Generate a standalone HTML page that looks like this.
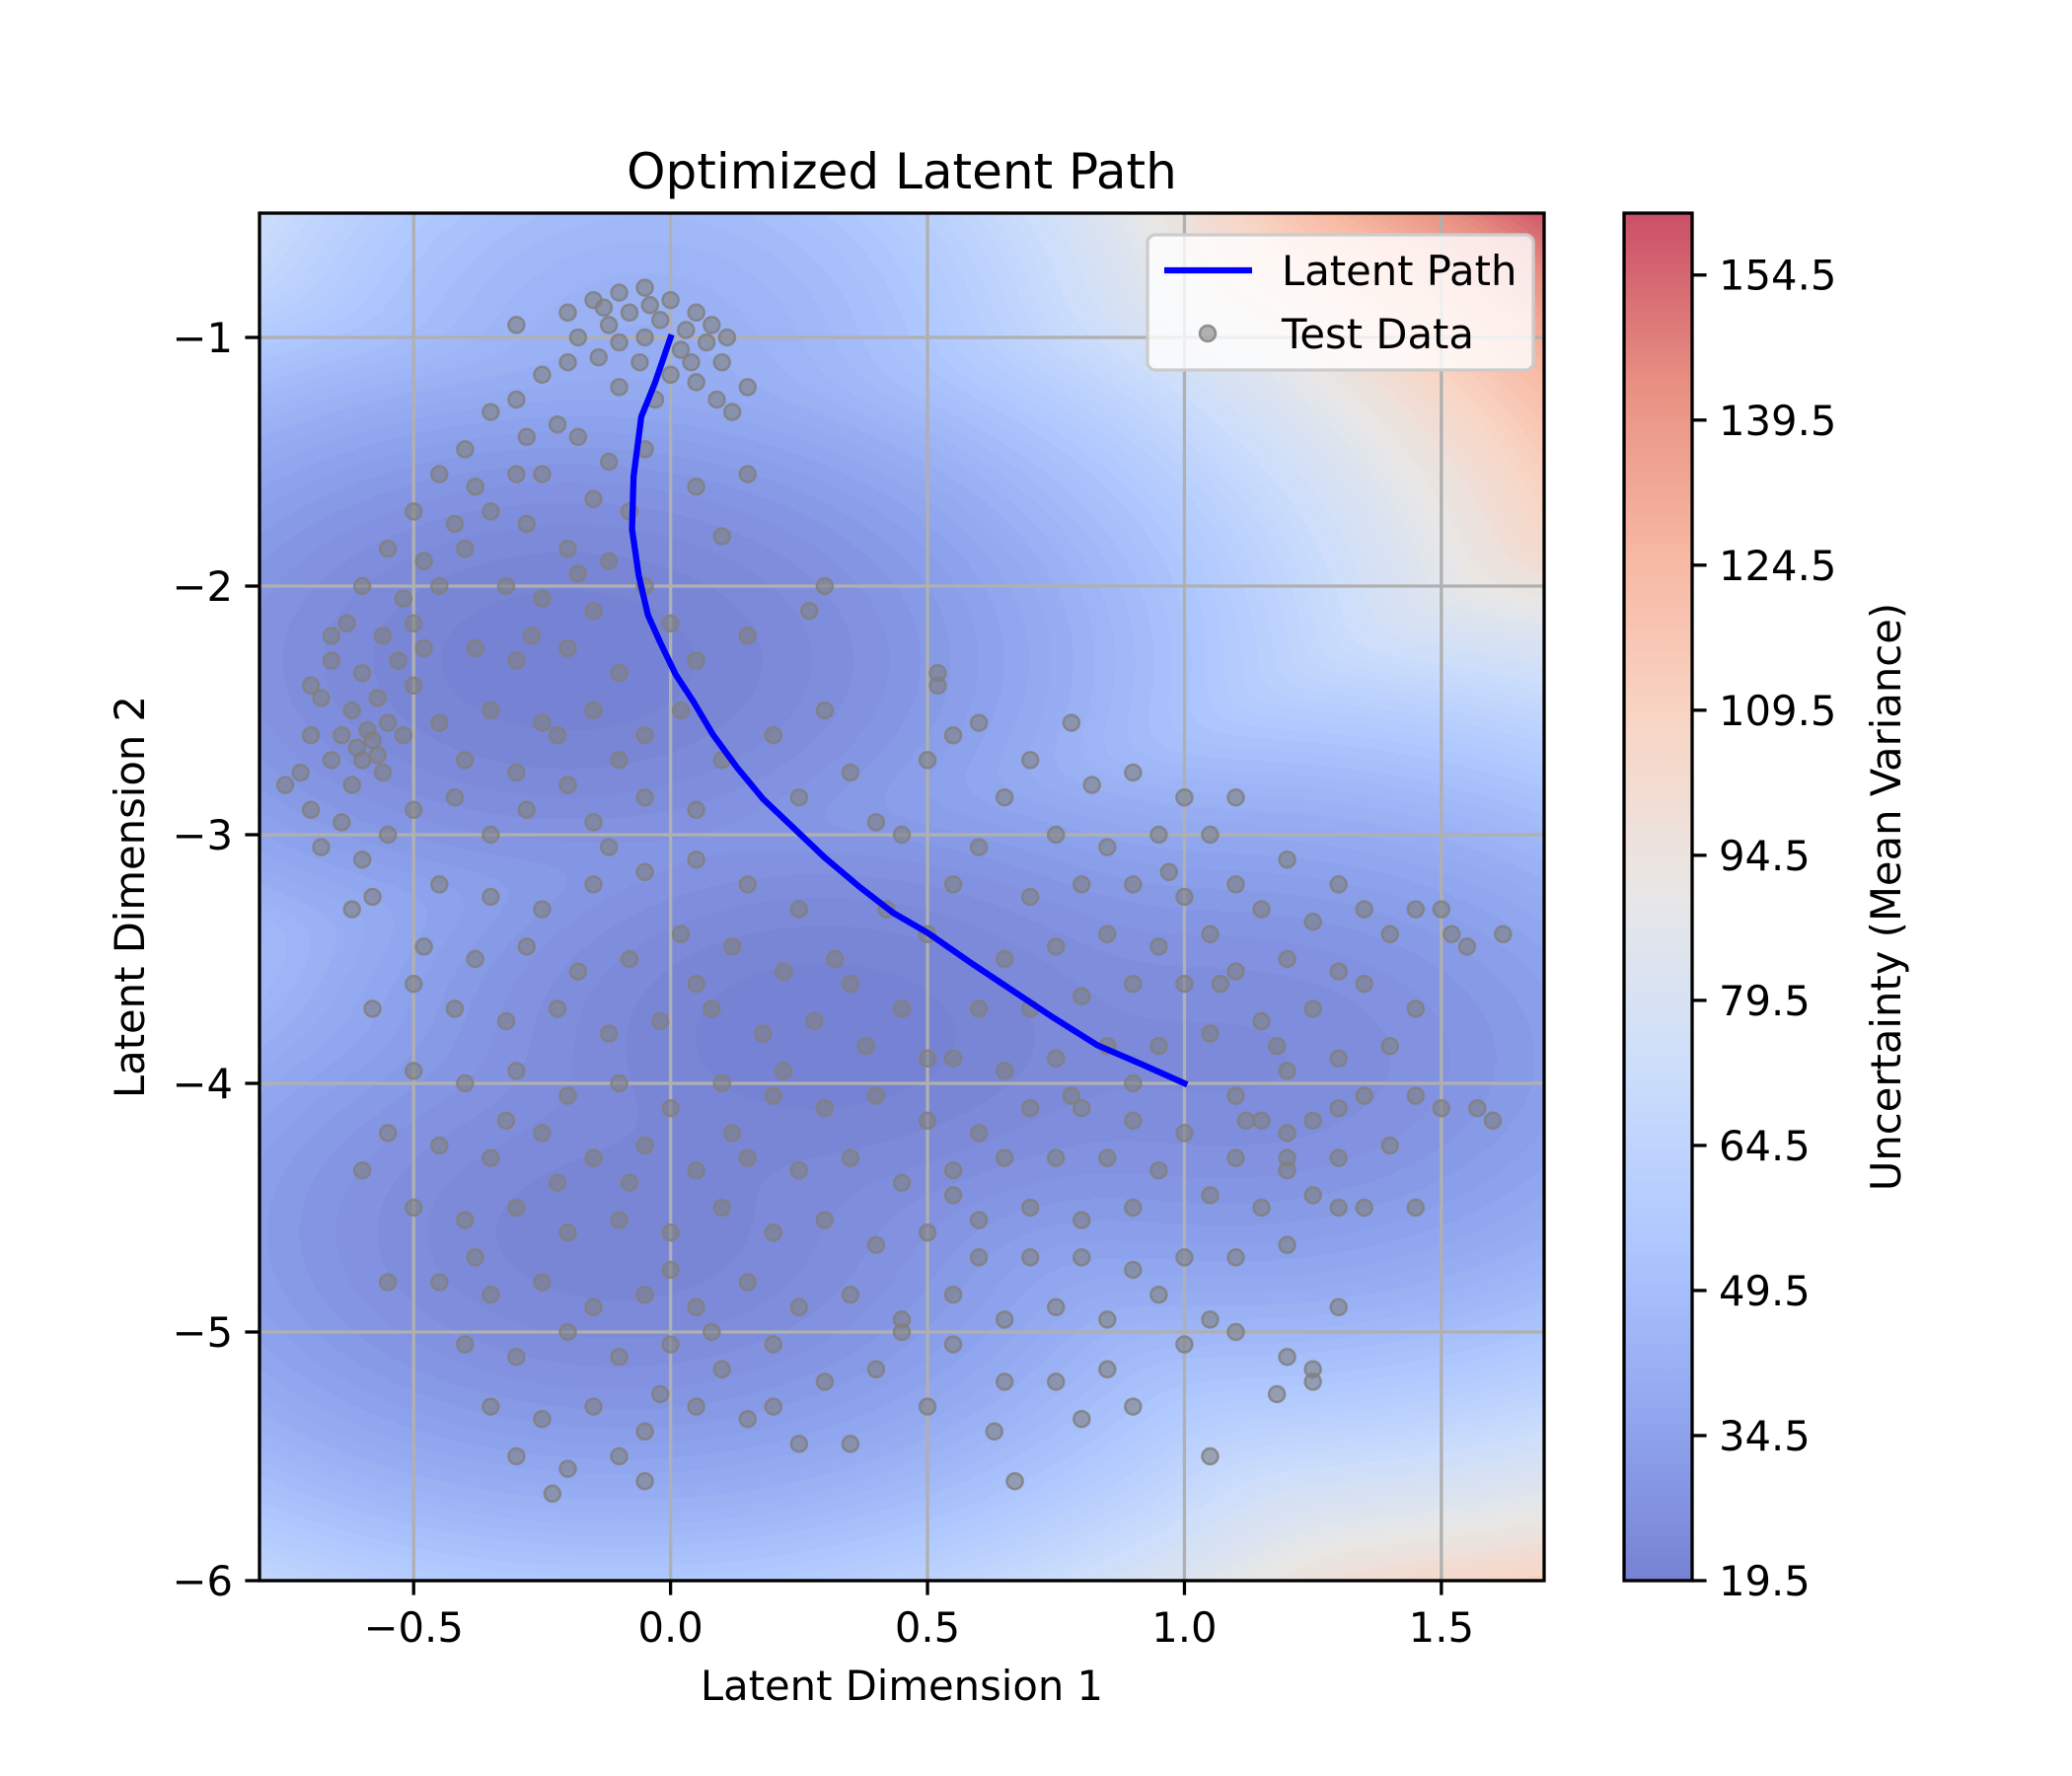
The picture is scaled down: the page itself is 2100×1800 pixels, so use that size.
<!DOCTYPE html>
<html><head><meta charset="utf-8">
<style>
html,body{margin:0;padding:0;background:#fff;}
#wrap{position:relative;width:2100px;height:1800px;overflow:hidden;font-family:"DejaVu Sans","Liberation Sans",sans-serif;}
#field{position:absolute;left:263px;top:216px;}
#svg{position:absolute;left:0;top:0;font-family:"DejaVu Sans","Liberation Sans",sans-serif;}
</style></head>
<body>
<div id="wrap">
<canvas id="field" width="1302" height="1386"></canvas>
<svg id="svg" width="2100" height="1800" xmlns="http://www.w3.org/2000/svg"></svg>
</div>
<script>
// ---- data ----
const xTicks = [-0.5, 0.0, 0.5, 1.0, 1.5];
const xTickLabels = ["\u22120.5", "0.0", "0.5", "1.0", "1.5"];
const yTicks = [-1, -2, -3, -4, -5, -6];
const yTickLabels = ["\u22121", "\u22122", "\u22123", "\u22124", "\u22125", "\u22126"];
const cbTicks = [19.5, 34.5, 49.5, 64.5, 79.5, 94.5, 109.5, 124.5, 139.5, 154.5];
const pathX = [0,-0.031,-0.057,-0.072,-0.075,-0.062,-0.044,-0.021,0.010,0.044,0.082,0.129,0.180,0.237,0.299,0.366,0.433,0.500,0.585,0.662,0.740,0.830,0.920,1.0];
const pathY = [-1,-1.186,-1.319,-1.559,-1.771,-1.957,-2.117,-2.223,-2.356,-2.463,-2.596,-2.729,-2.856,-2.968,-3.090,-3.207,-3.314,-3.394,-3.516,-3.622,-3.729,-3.846,-3.926,-4.0];
const testData = [
[-0.15,-0.85],[-0.1,-0.82],[-0.05,-0.8],[0.0,-0.85],[0.05,-0.9],[-0.2,-0.9],[-0.12,-0.95],[-0.08,-0.9],[-0.02,-0.93],[0.03,-0.97],[0.08,-0.95],[-0.18,-1.0],[-0.1,-1.02],[-0.05,-1.0],[0.02,-1.05],[0.07,-1.02],[0.1,-1.1],[-0.14,-1.08],[-0.06,-1.1],[0.0,-1.15],[0.05,-1.18],[-0.2,-1.1],[-0.25,-1.15],[-0.1,-1.2],[0.09,-1.25],[0.12,-1.3],[-0.03,-1.25],[0.15,-1.2],[-0.3,-0.95],[-0.04,-0.87],[0.11,-1.0],[-0.13,-0.88],[0.04,-1.1],
[-0.3,-1.25],[-0.35,-1.3],[-0.28,-1.4],[-0.4,-1.45],[-0.22,-1.35],[-0.45,-1.55],[-0.38,-1.6],[-0.3,-1.55],[-0.5,-1.7],[-0.42,-1.75],[-0.35,-1.7],[-0.55,-1.85],[-0.48,-1.9],[-0.4,-1.85],[-0.6,-2.0],[-0.52,-2.05],[-0.45,-2.0],[-0.63,-2.15],[-0.56,-2.2],[-0.5,-2.15],[-0.66,-2.3],[-0.6,-2.35],[-0.53,-2.3],[-0.68,-2.45],[-0.62,-2.5],[-0.57,-2.45],[-0.7,-2.6],[-0.64,-2.6],[-0.58,-2.62],[-0.6,-2.7],[-0.55,-2.55],[-0.66,-2.7],[-0.72,-2.75],[-0.62,-2.8],[-0.56,-2.75],[-0.7,-2.9],[-0.64,-2.95],[-0.75,-2.8],[-0.68,-3.05],[-0.6,-3.1],[-0.55,-3.0],[-0.5,-2.9],[-0.52,-2.6],[-0.5,-2.4],[-0.48,-2.25],[-0.58,-3.25],[-0.62,-3.3],[-0.66,-2.2],[-0.7,-2.4],[-0.59,-2.58],[-0.61,-2.65],[-0.57,-2.68],
[-0.18,-1.4],[-0.12,-1.5],[-0.05,-1.45],[-0.25,-1.55],[-0.15,-1.65],[-0.08,-1.7],[-0.28,-1.75],[-0.2,-1.85],[-0.12,-1.9],[0.05,-1.6],[0.1,-1.8],[0.15,-1.55],[-0.32,-2.0],[-0.25,-2.05],[-0.15,-2.1],[-0.05,-2.0],[0.0,-2.15],[-0.38,-2.25],[-0.3,-2.3],[-0.2,-2.25],[-0.1,-2.35],[0.05,-2.3],[-0.35,-2.5],[-0.25,-2.55],[-0.15,-2.5],[-0.05,-2.6],[0.02,-2.5],[-0.4,-2.7],[-0.3,-2.75],[-0.2,-2.8],[-0.1,-2.7],[-0.28,-2.9],[-0.15,-2.95],[-0.05,-2.85],[0.05,-2.9],[-0.35,-3.0],[-0.42,-2.85],[-0.45,-2.55],[0.1,-2.7],[0.2,-2.6],[0.3,-2.0],[0.15,-2.2],[-0.22,-2.6],[-0.27,-2.2],[-0.18,-1.95],
[-0.45,-3.2],[-0.35,-3.25],[-0.25,-3.3],[-0.15,-3.2],[-0.05,-3.15],[0.05,-3.1],[0.15,-3.2],[0.25,-3.3],[-0.48,-3.45],[-0.38,-3.5],[-0.28,-3.45],[-0.18,-3.55],[-0.08,-3.5],[0.02,-3.4],[0.12,-3.45],[0.22,-3.55],[0.32,-3.5],[-0.42,-3.7],[-0.32,-3.75],[-0.22,-3.7],[-0.12,-3.8],[-0.02,-3.75],[0.08,-3.7],[0.18,-3.8],[0.28,-3.75],[0.38,-3.85],[-0.5,-3.95],[-0.4,-4.0],[-0.3,-3.95],[-0.2,-4.05],[-0.1,-4.0],[0.0,-4.1],[0.1,-4.0],[0.2,-4.05],[0.3,-4.1],[0.4,-4.05],[0.5,-4.15],[-0.55,-4.2],[-0.45,-4.25],[-0.35,-4.3],[-0.25,-4.2],[-0.15,-4.3],[-0.05,-4.25],[0.05,-4.35],[0.15,-4.3],[0.25,-4.35],[0.35,-4.3],[0.45,-4.4],[0.55,-4.35],[-0.5,-4.5],[-0.4,-4.55],[-0.3,-4.5],[-0.2,-4.6],[-0.1,-4.55],[0.0,-4.6],[0.1,-4.5],[0.2,-4.6],[0.3,-4.55],[0.4,-4.65],[0.5,-4.6],[0.6,-4.55],[-0.45,-4.8],[-0.35,-4.85],[-0.25,-4.8],[-0.15,-4.9],[-0.05,-4.85],[0.05,-4.9],[0.15,-4.8],[0.25,-4.9],[0.35,-4.85],[0.45,-4.95],[0.55,-4.85],[-0.4,-5.05],[-0.3,-5.1],[-0.2,-5.0],[-0.1,-5.1],[0.0,-5.05],[0.1,-5.15],[0.2,-5.05],[0.3,-5.2],[-0.35,-5.3],[-0.25,-5.35],[-0.15,-5.3],[-0.05,-5.4],[0.05,-5.3],[-0.3,-5.5],[-0.2,-5.55],[-0.1,-5.5],[-0.23,-5.65],[-0.05,-5.6],[0.25,-5.45],[0.15,-5.35],[-0.55,-4.8],[-0.6,-4.35],[-0.5,-3.6],[-0.58,-3.7],[0.6,-4.2],[0.0,-4.75],[-0.08,-4.4],[0.12,-4.2],[-0.22,-4.4],[-0.32,-4.15],[0.22,-3.95],[0.35,-3.6],[0.42,-3.3],[0.45,-3.0],[0.05,-3.6],[-0.12,-3.05],[-0.38,-4.7],[0.08,-5.0],[-0.02,-5.25],
[0.52,-2.4],[0.55,-2.6],[0.5,-2.7],[0.6,-2.55],[0.7,-2.7],[0.65,-2.85],[0.78,-2.55],[0.82,-2.8],[0.9,-2.75],[1.0,-2.85],[1.1,-2.85],[1.05,-3.0],[0.95,-3.0],[0.85,-3.05],[0.75,-3.0],[0.6,-3.05],[0.55,-3.2],[0.7,-3.25],[0.8,-3.2],[0.9,-3.2],[1.0,-3.25],[1.1,-3.2],[1.2,-3.1],[1.3,-3.2],[1.35,-3.3],[1.25,-3.35],[1.15,-3.3],[1.05,-3.4],[0.95,-3.45],[0.85,-3.4],[0.75,-3.45],[0.65,-3.5],[0.6,-3.7],[0.7,-3.7],[0.8,-3.65],[0.9,-3.6],[1.0,-3.6],[1.1,-3.55],[1.2,-3.5],[1.3,-3.55],[1.4,-3.4],[1.45,-3.3],[1.5,-3.3],[1.55,-3.45],[1.35,-3.6],[1.25,-3.7],[1.15,-3.75],[1.05,-3.8],[0.95,-3.85],[0.85,-3.85],[0.75,-3.9],[0.65,-3.95],[0.55,-3.9],[1.3,-3.9],[1.4,-3.85],[1.45,-3.7],[1.2,-3.95],[1.1,-4.05],[1.15,-4.15],[1.2,-4.2],[1.25,-4.15],[1.3,-4.1],[1.35,-4.05],[1.45,-4.05],[1.5,-4.1],[1.4,-4.25],[1.3,-4.3],[1.2,-4.35],[1.1,-4.3],[1.0,-4.2],[0.9,-4.15],[0.8,-4.1],[0.7,-4.1],[0.65,-4.3],[0.75,-4.3],[0.85,-4.3],[0.95,-4.35],[1.05,-4.45],[1.15,-4.5],[1.25,-4.45],[1.35,-4.5],[0.9,-4.5],[0.8,-4.55],[0.7,-4.5],[0.6,-4.7],[0.7,-4.7],[0.8,-4.7],[0.9,-4.75],[1.0,-4.7],[1.1,-4.7],[1.2,-4.65],[1.05,-4.95],[0.95,-4.85],[0.85,-4.95],[0.75,-4.9],[0.65,-4.95],[0.55,-5.05],[0.65,-5.2],[0.75,-5.2],[0.85,-5.15],[1.0,-5.05],[1.1,-5.0],[1.2,-5.1],[1.25,-5.15],[1.3,-4.9],[0.8,-5.35],[0.9,-5.3],[0.63,-5.4],[0.67,-5.6],[1.05,-5.5],[1.25,-5.2],[1.18,-5.25],[1.57,-4.1],[1.6,-4.15],[1.62,-3.4],[1.52,-3.4],[0.52,-2.35],[0.97,-3.15],[1.07,-3.6],[1.18,-3.85],[0.9,-4.0],[1.12,-4.15],[1.2,-4.3],[0.78,-4.05],[1.45,-4.5],[1.3,-4.5],
[0.27,-2.1],[0.3,-2.5],[0.25,-2.85],[0.35,-2.75],[0.4,-2.95],[0.5,-3.4],[0.45,-3.7],[0.5,-3.9],[0.55,-4.45],[0.45,-5.0],[0.4,-5.15],[0.35,-5.45],[0.2,-5.3],[0.5,-5.3]
];
// uncertainty field bowls: center x, center y, base value
const bowlCx = [-0.05, -0.2, 0.3, 1.1, -0.1];
const bowlCy = [-1.1, -2.3, -3.8, -3.9, -4.6];
const bowlBase = [42, 20, 20, 25, 22];
const bowlKx = [45, 23, 23, 23, 23];
const bowlKy = [17.5, 17.5, 17.5, 17.5, 17.5];

// ---- scales ----
const L=263, R=1565, T=216, B=1602;
const X0=-0.8, X1=1.7, Y0=-6, Y1=-0.5;
const VMIN=19.5, VMAX=160.9;
const sx = v => L + (v - X0) / (X1 - X0) * (R - L);
const sy = v => B - (v - Y0) / (Y1 - Y0) * (B - T);
const cbL=1646, cbR=1715;
const sc = v => B - (v - VMIN) / (VMAX - VMIN) * (B - T);

const cmStops=[[0,59,76,192],[0.125,98,130,234],[0.25,141,176,254],[0.375,184,208,249],[0.5,221,221,221],[0.625,245,196,173],[0.75,244,154,123],[0.875,222,96,77],[1,180,4,38]];
const ALPHA=0.7;
function cmap(t){t=Math.max(0,Math.min(1,t));for(let i=1;i<cmStops.length;i++){if(t<=cmStops[i][0]){const a=cmStops[i-1],b=cmStops[i];const f=(t-a[0])/(b[0]-a[0]);return [0,1,2].map(k=>{const c=a[k+1]+(b[k+1]-a[k+1])*f;return Math.round(c*ALPHA+255*(1-ALPHA));});}}return [180,4,38];}
function field(x,y){let s=0;for(let i=0;i<bowlCx.length;i++){const v=bowlBase[i]+bowlKx[i]*(x-bowlCx[i])**2+bowlKy[i]*(y-bowlCy[i])**2;s+=Math.exp(-v/3);}return -3*Math.log(s);}

// ---- field canvas ----
const cv=document.getElementById('field');const ctx=cv.getContext('2d');
const W=cv.width,H=cv.height;const img=ctx.createImageData(W,H);
for(let py=0;py<H;py+=2){for(let px=0;px<W;px+=2){
 const x=X0+(px+1)/W*(X1-X0), y=Y1-(py+1)/H*(Y1-Y0);
 let v=field(x,y);
 const lev=Math.floor((v-VMIN)/1.9);
 const c=cmap((lev*1.9)/(VMAX-VMIN));
 for(let dy=0;dy<2;dy++)for(let dx=0;dx<2;dx++){if(px+dx<W&&py+dy<H){const k=((py+dy)*W+px+dx)*4;img.data[k]=c[0];img.data[k+1]=c[1];img.data[k+2]=c[2];img.data[k+3]=255;}}
}}
ctx.putImageData(img,0,0);

// ---- svg ----
const NS='http://www.w3.org/2000/svg';const svg=document.getElementById('svg');
function mk(tag,attrs,parent){const e=document.createElementNS(NS,tag);for(const k in attrs)e.setAttribute(k,attrs[k]);(parent||svg).appendChild(e);return e;}
const FS=41.7;

// gridlines
const grid=mk('g',{});


xTicks.forEach(v=>{const l=mk('line',{x1:sx(v),x2:sx(v),y1:T,y2:B,stroke:'#b0b0b0','stroke-width':3.3},grid);

});
yTicks.forEach(v=>{const l=mk('line',{x1:L,x2:R,y1:sy(v),y2:sy(v),stroke:'#b0b0b0','stroke-width':3.3},grid);

});

// scatter
const sg=mk('g',{});


testData.forEach(p=>{const c=mk('circle',{cx:sx(p[0]),cy:sy(p[1]),r:8,fill:'rgba(128,128,128,0.6)',stroke:'rgba(128,128,128,0.85)','stroke-width':2.5},sg);

});

// path
const pts=pathX.map((x,i)=>sx(x)+','+sy(pathY[i])).join(' ');
const pl=mk('polyline',{points:pts,fill:'none',stroke:'#0000ff','stroke-width':6.25,'stroke-linejoin':'round','stroke-linecap':'square'});



// spines
const sp=mk('rect',{x:L,y:T,width:R-L,height:B-T,fill:'none',stroke:'#000','stroke-width':3.3});



// ticks & labels
xTicks.forEach((v,i)=>{mk('line',{x1:sx(v),x2:sx(v),y1:B,y2:B+14.6,stroke:'#000','stroke-width':3.3});
const t=mk('text',{x:sx(v),y:B+62,'font-size':FS,'text-anchor':'middle',fill:'#000'});t.textContent=xTickLabels[i];

});
yTicks.forEach((v,i)=>{mk('line',{x1:L-14.6,x2:L,y1:sy(v),y2:sy(v),stroke:'#000','stroke-width':3.3});
const t=mk('text',{x:L-27,y:sy(v)+15,'font-size':FS,'text-anchor':'end',fill:'#000'});t.textContent=yTickLabels[i];

});

const title=mk('text',{x:(L+R)/2,y:191,'font-size':50,'text-anchor':'middle',fill:'#000'});title.textContent='Optimized Latent Path';


const xl=mk('text',{x:(L+R)/2,y:1723,'font-size':FS,'text-anchor':'middle',fill:'#000'});xl.textContent='Latent Dimension 1';


const yl=mk('text',{x:0,y:0,'font-size':FS,'text-anchor':'middle',fill:'#000',transform:'translate(146,'+((T+B)/2)+') rotate(-90)'});yl.textContent='Latent Dimension 2';



// colorbar
const defs=mk('defs',{});const lg=mk('linearGradient',{id:'cbg',x1:0,y1:1,x2:0,y2:0},defs);
for(let i=0;i<=40;i++){const t=i/40;const c=cmap(t);mk('stop',{offset:t,'stop-color':'rgb('+c.join(',')+')'},lg);}
const cb=mk('rect',{x:cbL,y:T,width:cbR-cbL,height:B-T,fill:'url(#cbg)',stroke:'#000','stroke-width':3.3});


cbTicks.forEach(v=>{mk('line',{x1:cbR,x2:cbR+14.6,y1:sc(v),y2:sc(v),stroke:'#000','stroke-width':3.3});
const t=mk('text',{x:cbR+27,y:sc(v)+15,'font-size':FS,fill:'#000'});t.textContent=v.toFixed(1);

});
const cl=mk('text',{x:0,y:0,'font-size':FS,'text-anchor':'middle',fill:'#000',transform:'translate(1926,'+((T+B)/2)+') rotate(-90)'});cl.textContent='Uncertainty (Mean Variance)';



// legend
const lgG=mk('g',{});


mk('rect',{x:1163,y:238,width:391,height:137,rx:8,fill:'rgba(255,255,255,0.8)',stroke:'#cccccc','stroke-width':3.3},lgG);
const le1=mk('line',{x1:1180,x2:1269,y1:274,y2:274,stroke:'#0000ff','stroke-width':6.25},lgG);


const lt1=mk('text',{x:1299,y:289,'font-size':FS,fill:'#000'},lgG);lt1.textContent='Latent Path';


const le2=mk('circle',{cx:1224,cy:338,r:8,fill:'rgba(128,128,128,0.6)',stroke:'rgba(128,128,128,0.85)','stroke-width':2.5},lgG);


const lt2=mk('text',{x:1299,y:353,'font-size':FS,fill:'#000'},lgG);lt2.textContent='Test Data';


</script>
</body></html>
